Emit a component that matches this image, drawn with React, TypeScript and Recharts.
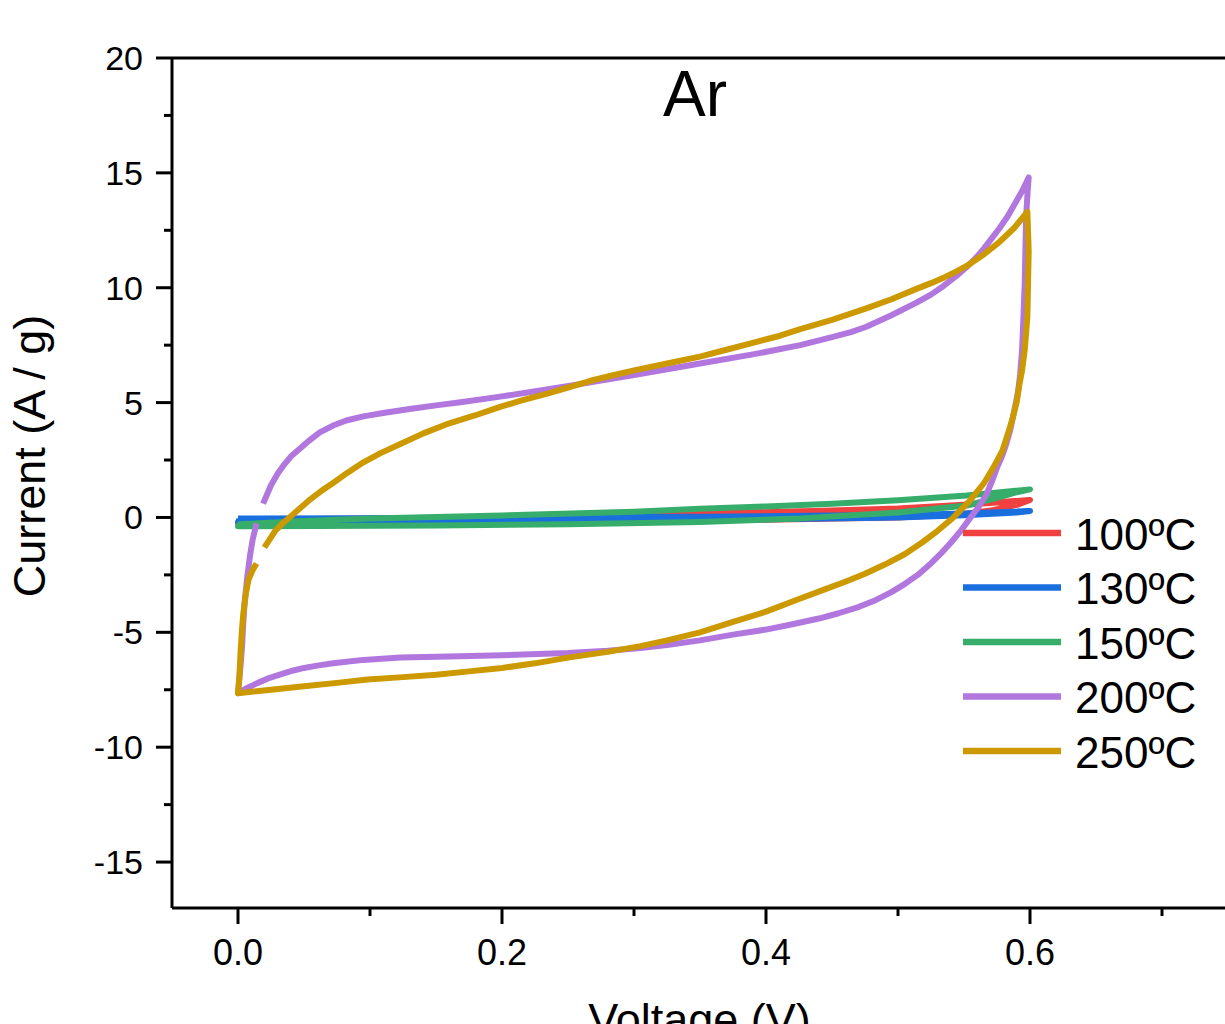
import React from 'react';
import { LineChart, Line, XAxis, YAxis, ReferenceLine, Legend } from 'recharts';

// CV loops, [voltage (V), current (A/g)]
const loop100: [number, number][] = [
  [0.0, -0.1], [0.1, -0.05], [0.2, 0.0], [0.3, 0.1], [0.35, 0.17], [0.45, 0.3], [0.5, 0.39],
  [0.55, 0.55], [0.6, 0.76], [0.59, 0.55], [0.57, 0.3], [0.55, 0.15], [0.5, 0.0], [0.4, -0.1],
  [0.3, -0.15], [0.2, -0.2], [0.1, -0.2], [0.0, -0.25], [0.001, -0.12],
];

const loop130: [number, number][] = [
  [0.0, -0.05], [0.1, -0.03], [0.2, 0.0], [0.35, 0.03], [0.45, 0.08], [0.5, 0.1], [0.55, 0.17],
  [0.6, 0.28], [0.59, 0.22], [0.55, 0.1], [0.5, 0.0], [0.4, -0.08], [0.3, -0.12], [0.2, -0.15],
  [0.1, -0.15], [0.0, -0.2], [0.001, -0.08],
];

const loop150: [number, number][] = [
  [0.0, -0.3], [0.05, -0.15], [0.1, -0.05], [0.2, 0.09], [0.3, 0.25], [0.35, 0.38], [0.4, 0.48],
  [0.45, 0.6], [0.5, 0.75], [0.552, 0.96], [0.6, 1.22], [0.59, 1.1], [0.575, 0.85], [0.552, 0.52],
  [0.5, 0.22], [0.426, -0.04], [0.35, -0.2], [0.25, -0.3], [0.15, -0.35], [0.0, -0.38], [0.001, -0.3],
];

const loop200: [number, number][] = [
  // forward
  [0.019, 0.6], [0.022, 1.0], [0.025, 1.4], [0.03, 1.9], [0.035, 2.3], [0.04, 2.65], [0.047, 3.0],
  [0.054, 3.35], [0.062, 3.7], [0.072, 4.0], [0.082, 4.22], [0.095, 4.4], [0.11, 4.55],
  [0.13, 4.72], [0.15, 4.88], [0.17, 5.03], [0.2, 5.27], [0.235, 5.58], [0.267, 5.88],
  [0.3, 6.2], [0.325, 6.45], [0.35, 6.7], [0.39, 7.1], [0.426, 7.5], [0.45, 7.85], [0.465, 8.08],
  [0.476, 8.3], [0.495, 8.8], [0.514, 9.35], [0.525, 9.7], [0.535, 10.1], [0.544, 10.5],
  [0.552, 10.9], [0.559, 11.3], [0.565, 11.7], [0.571, 12.15], [0.577, 12.6], [0.583, 13.1],
  [0.588, 13.6], [0.594, 14.2], [0.599, 14.8],
  // reverse
  [0.598, 14.0], [0.597, 13.0], [0.5965, 11.6], [0.596, 10.2], [0.595, 8.7], [0.594, 7.3],
  [0.5925, 6.2], [0.591, 5.5], [0.589, 4.9], [0.587, 4.35], [0.585, 3.8], [0.582, 3.2],
  [0.579, 2.7], [0.575, 2.17], [0.571, 1.55], [0.567, 1.0], [0.561, 0.45], [0.555, 0.0],
  [0.548, -0.55], [0.54, -1.1], [0.532, -1.6], [0.524, -2.05], [0.515, -2.5], [0.505, -2.9],
  [0.495, -3.25], [0.483, -3.6], [0.47, -3.9], [0.455, -4.17], [0.44, -4.4], [0.42, -4.65],
  [0.4, -4.88], [0.375, -5.1], [0.35, -5.35], [0.325, -5.55], [0.305, -5.68], [0.28, -5.8],
  [0.25, -5.9], [0.2, -6.0], [0.16, -6.05], [0.123, -6.1], [0.095, -6.2], [0.072, -6.35],
  [0.06, -6.45], [0.05, -6.55], [0.042, -6.66], [0.034, -6.8], [0.024, -6.98], [0.015, -7.2],
  [0.007, -7.42], [0.0, -7.65],
  // back up to start
  [0.001, -7.0], [0.002, -6.4], [0.003, -5.65], [0.004, -4.6], [0.005, -3.7], [0.007, -2.6],
  [0.009, -1.7], [0.011, -1.0], [0.014, -0.26],
];

const loop250: [number, number][] = [
  // forward
  [0.02, -1.3], [0.024, -0.95], [0.028, -0.6], [0.033, -0.3], [0.039, 0.0], [0.047, 0.4],
  [0.055, 0.8], [0.063, 1.15], [0.072, 1.5], [0.083, 1.95], [0.095, 2.4], [0.108, 2.8],
  [0.123, 3.2], [0.14, 3.65], [0.16, 4.1], [0.18, 4.45], [0.198, 4.8], [0.215, 5.1],
  [0.235, 5.4], [0.25, 5.65], [0.267, 5.95], [0.285, 6.2], [0.3, 6.4], [0.325, 6.7], [0.35, 7.0],
  [0.37, 7.3], [0.39, 7.6], [0.41, 7.9], [0.426, 8.2], [0.45, 8.6], [0.476, 9.1], [0.495, 9.5],
  [0.514, 9.95], [0.525, 10.2], [0.535, 10.45], [0.544, 10.7], [0.552, 10.95], [0.565, 11.45],
  [0.577, 12.0], [0.588, 12.6], [0.598, 13.3],
  // reverse
  [0.5985, 12.5], [0.599, 11.6], [0.5985, 10.1], [0.598, 8.7], [0.596, 7.3], [0.594, 6.4],
  [0.592, 5.8], [0.59, 5.05], [0.587, 4.35], [0.583, 3.6], [0.579, 2.9], [0.572, 2.15],
  [0.565, 1.48], [0.554, 0.7], [0.542, 0.0], [0.53, -0.58], [0.518, -1.1], [0.505, -1.6],
  [0.49, -2.05], [0.475, -2.45], [0.46, -2.8], [0.445, -3.12], [0.425, -3.55], [0.4, -4.1],
  [0.375, -4.55], [0.35, -5.0], [0.325, -5.35], [0.305, -5.6], [0.28, -5.85], [0.25, -6.1],
  [0.225, -6.35], [0.2, -6.55], [0.175, -6.7], [0.15, -6.85], [0.125, -6.95], [0.098, -7.05],
  [0.075, -7.2], [0.05, -7.35], [0.025, -7.5], [0.0, -7.65],
  // back up to start
  [0.001, -7.0], [0.002, -5.8], [0.003, -4.9], [0.004, -4.2], [0.006, -3.3], [0.008, -2.7],
  [0.011, -2.3], [0.014, -2.0],
];

const seriesNames = ['100ºC', '130ºC', '150ºC', '200ºC', '250ºC'];
const seriesColors = ['#F14040', '#1A6FDF', '#37AD6B', '#B177DE', '#CC9900'];
const seriesLoops = [loop100, loop130, loop150, loop200, loop250];

const xTicks = [0, 0.1, 0.2, 0.3, 0.4, 0.5, 0.6, 0.7];
const yTicks = [-15, -12.5, -10, -7.5, -5, -2.5, 0, 2.5, 5, 7.5, 10, 12.5, 15, 17.5, 20];

const FONT = 'Arial, "Liberation Sans", sans-serif';

const XTick = (props: any) => {
  const { x, y, payload } = props;
  const v = payload.value;
  const major = Math.round(v * 10) % 2 === 0;
  return (
    <g>
      <line x1={x} x2={x} y1={y} y2={y + (major ? 16 : 8)} stroke="#000" strokeWidth={3} />
      {major && (
        <text x={x} y={y + 57} textAnchor="middle" fontSize={36} fontFamily={FONT} fill="#000">
          {v.toFixed(1)}
        </text>
      )}
    </g>
  );
};

const YTick = (props: any) => {
  const { x, y, payload } = props;
  const v = payload.value;
  const major = v % 5 === 0;
  return (
    <g>
      <line x1={x - (major ? 16 : 8)} x2={x} y1={y} y2={y} stroke="#000" strokeWidth={3} />
      {major && (
        <text x={x - 29} y={y + 12} textAnchor="end" fontSize={34} fontFamily={FONT} fill="#000">
          {v}
        </text>
      )}
    </g>
  );
};

const renderLegend = (props: any) => {
  const { payload } = props;
  return (
    <svg width={270} height={280}>
      {(payload || []).map((entry: any, k: number) => {
        const cy = 28 + k * 54.5;
        return (
          <g key={entry.value}>
            <line x1={8} x2={106} y1={cy} y2={cy} stroke={entry.color} strokeWidth={6.5} />
            <text x={120} y={cy + 16.5} fontSize={44} fontFamily={FONT} fill="#000">
              {entry.value}
            </text>
          </g>
        );
      })}
    </svg>
  );
};

export default function App() {
  return (
    <div style={{ position: 'absolute', left: 0, top: 0, width: 1225, height: 1024, overflow: 'hidden', background: '#fff' }}>
      <LineChart width={1240} height={1060} margin={{ top: 58, right: 12, bottom: 0, left: 0 }}>
        <XAxis
          type="number"
          dataKey="v"
          domain={[-0.05, 0.75]}
          ticks={xTicks}
          interval={0}
          allowDataOverflow
          height={152}
          tickSize={0}
          tickMargin={0}
          tickLine={false}
          tick={<XTick />}
          axisLine={{ stroke: '#000', strokeWidth: 3 }}
          label={() => (
            <text x={699.5} y={1035} textAnchor="middle" fontSize={45} fontFamily={FONT} fill="#000">
              Voltage (V)
            </text>
          )}
        />
        <YAxis
          type="number"
          domain={[-17, 20]}
          ticks={yTicks}
          interval={0}
          allowDataOverflow
          width={172}
          tickSize={0}
          tickMargin={0}
          tickLine={false}
          tick={<YTick />}
          axisLine={{ stroke: '#000', strokeWidth: 3 }}
          label={() => (
            <text transform="translate(45, 456) rotate(-90)" textAnchor="middle" fontSize={45} fontFamily={FONT} fill="#000">
              Current (A / g)
            </text>
          )}
        />
        <ReferenceLine
          y={20}
          stroke="#000"
          strokeWidth={3}
          label={() => (
            <text x={695} y={116} textAnchor="middle" fontSize={64} fontFamily={FONT} fill="#000">
              Ar
            </text>
          )}
        />
        {seriesLoops.map((loop, k) => (
          <Line
            key={seriesNames[k]}
            name={seriesNames[k]}
            data={loop.map(([v, i]) => ({ v, i }))}
            dataKey="i"
            type="linear"
            stroke={seriesColors[k]}
            strokeWidth={6}
            strokeLinejoin="round"
            dot={false}
            activeDot={false}
            isAnimationActive={false}
          />
        ))}
        <Legend
          layout="vertical"
          align="center"
          verticalAlign="middle"
          content={renderLegend}
          wrapperStyle={{ left: 955, top: 505, width: 270, height: 280 }}
        />
      </LineChart>
    </div>
  );
}
